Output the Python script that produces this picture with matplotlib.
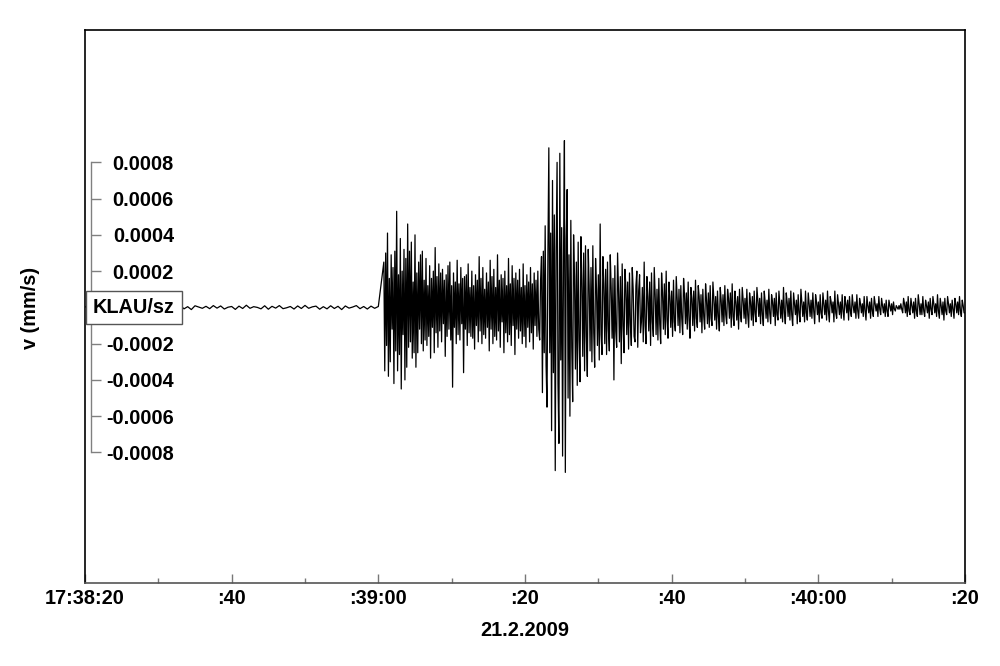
import matplotlib
matplotlib.use("Agg")
import matplotlib.pyplot as plt
import matplotlib.transforms as mtransforms
import numpy as np

plt.rcParams['font.family'] = ['Liberation Sans', 'DejaVu Sans']
plt.rcParams['font.weight'] = 'bold'

# trace samples, velocity in units of 1e-4 mm/s, seconds after 17:38:20
pre_start, pre_step = 0.0, 0.5
pre_event = [0.05, -0.08, 0.02, 0.06, -0.04, 0.09, -0.1, -0.03, 0.07, -0.05,
             0.08, 0.01, -0.07, 0.04, -0.09, 0.1, -0.03, 0.03, -0.08, 0.12,
             -0.05, 0.07, -0.1, -0.02, 0.05, -0.06, 0.11, -0.08, 0.04, -0.12,
             0.09, 0.02, -0.05, 0.06, -0.07, 0.1, -0.04, 0.08, -0.09, 0.01,
             0.05, -0.11, 0.07, -0.06, 0.12, -0.05, 0.04, 0.0, -0.08, 0.09,
             -0.1, 0.06, -0.04, 0.1, -0.07, -0.02, 0.05, -0.09, 0.08, -0.06,
             0.11, -0.05, 0.03, 0.07, -0.1, 0.04, -0.08, 0.09, -0.06, 0.06,
             -0.12, 0.08, -0.04, 0.02, 0.1, -0.07, 0.05, -0.09, 0.07, -0.05,
             0.05]

p_start, p_step = 40.75, 0.125
p_phase = [2.5, -3.5,
           3.0, -2.1, 4.1, -3.8, 1.6, -3.0, 2.9, -1.2,
           2.2, -4.2, 3.1, -2.4, 5.3, -3.5, 1.8, -2.6,
           3.8, -4.5, 2.0, -1.5, 3.2, -4.0, 2.7, -3.3,
           4.6, -2.2, 3.1, -1.9, 3.6, -2.8, 1.4, -2.5,
           4.0, -3.3, 1.9, -2.5, 2.5, -1.2, 2.9, -2.0,
           3.1, -2.4, 1.5, -1.8, 2.7, -2.1, 1.2, -1.6,
           2.3, -2.8, 1.6, -1.1, 2.0, -2.5, 3.3, -1.4,
           1.7, -2.2, 2.4, -1.3, 1.9, -1.9, 2.1, -0.9,
           1.5, -2.7, 1.8, -1.6, 2.3, -1.2, 2.5, -1.8,
           1.2, -4.4, 1.9, -1.1, 1.4, -2.0, 2.6, -1.5,
           1.3, -1.8, 2.2, -0.9, 1.6, -3.6, 1.7, -1.2,
           1.8, -2.1, 2.4, -1.4, 1.1, -1.6, 2.0, -1.7,
           1.2, -2.3, 1.8, -1.0, 1.5, -1.9, 2.8, -1.3,
           1.6, -2.0, 2.2, -1.5, 1.0, -1.7, 1.9, -1.1,
           1.4, -2.4, 2.6, -1.2, 1.7, -2.0, 2.1, -1.6,
           1.1, -1.8, 2.9, -1.3, 1.5, -2.2, 1.8, -0.8,
           1.6, -2.5, 2.0, -1.4, 1.2, -1.9, 2.7, -1.5,
           1.3, -2.1, 2.3, -1.0, 1.6, -2.6, 1.9, -1.2,
           1.5, -1.7, 2.1, -1.3, 1.1, -2.0, 2.4, -1.6,
           1.2, -2.2, 1.8, -1.1, 1.4, -1.9, 2.2, -1.4,
           1.3, -2.3, 1.9, -1.0, 1.5, -1.6, 2.0, -1.2,
           -1.8]

s_start, s_step = 62.125, 0.125
s_phase = [1.5, 2.8, -4.7, 3.1, -2.5, 4.5, -3.2,
           -5.5, 3.0, 8.8, -2.5, 4.1, -6.8, 7.0, -3.6,
           5.1, -9.0, 3.3, 8.0, -4.2, -7.5, 8.5, -2.9,
           4.4, -8.2, 2.6, 9.2, -9.1, 3.8, 6.5, -5.0,
           2.9, -6.0, 4.8, -2.2, -5.2, 4.0, 1.7, -3.4,
           2.5, -4.3, 3.6, -1.8, -4.1, 3.9, 1.5, -2.7,
           3.0, -3.5, 3.4, -1.6, -3.8, 3.2, 1.2, -2.4,
           2.2, -3.0, 3.4, -1.4, -3.3, 2.7, 1.0, -2.1,
           1.8, -2.9, 4.6, -1.5, -2.6, 2.8, 1.3, -2.0,
           2.1, -2.6, 2.5, -1.2, -2.4, 2.9, 1.1, -1.7,
           1.6, -4.0, 2.3, -1.3, -2.2, 3.0, 0.9, -1.9,
           1.7, -3.1, 2.4, -1.0, -2.5, 2.1, 1.2, -1.5,
           1.4, -2.3, 1.9, -0.9, -2.1, 2.2, 1.0, -1.6,
           -1.9]

coda_start, coda_step = 75.125, 0.125
coda = [1.2, 2.0, -2.2, 0.9, 1.8, -1.4, -0.8,
        1.1, -1.9, 2.5, -1.0, -2.0, 1.7, 0.6, -1.3,
        1.4, -2.1, 1.9, -0.8, -1.6, 2.2, 0.7, -1.5,
        1.0, -1.8, 1.6, -0.9, -2.0, 1.9, 0.8, -1.2,
        1.3, -1.5, 2.0, -0.7, -1.7, 1.4, 0.6, -1.1,
        0.9, -1.6, 1.5, -0.8, -1.3, 1.7, 0.5, -1.0,
        1.0, -1.4, 1.2, -0.6, -1.5, 1.6, 0.7, -0.9,
        0.8, -1.2, 1.4, -0.7, -1.7, 1.1, 0.5, -1.0,
        0.9, -1.3, 1.5, -0.6, -1.1, 1.2, 0.6, -0.8,
        0.7, -1.4, 1.0, -0.5, -1.2, 1.3, 0.4, -0.9,
        0.8, -1.1, 1.2, -0.6, -1.0, 1.4, 0.5, -0.7,
        0.6, -1.2, 0.9, -0.5, -1.3, 1.1, 0.4, -0.8,
        0.7, -1.0, 1.2, -0.4, -0.9, 1.0, 0.5, -0.6,
        0.8, -1.1, 1.3, -0.5, -1.0, 0.9, 0.3, -0.7,
        0.6, -1.2, 1.0, -0.4, -0.8, 1.1, 0.4, -0.6,
        0.5, -0.9, 1.0, -0.4, -1.1, 0.8, 0.3, -0.7,
        0.6, -1.0, 0.9, -0.3, -0.8, 1.1, 0.4, -0.5,
        0.5, -0.9, 0.8, -0.4, -1.0, 0.9, 0.3, -0.6,
        0.4, -0.8, 1.0, -0.3, -0.9, 0.7, 0.3, -0.5,
        0.5, -1.0, 0.8, -0.4, -0.7, 0.9, 0.2, -0.6,
        0.4, -0.8, 1.1, -0.3, -0.9, 0.8, 0.3, -0.5,
        0.5, -0.7, 0.9, -0.4, -1.0, 0.8, 0.2, -0.4,
        0.4, -0.9, 0.7, -0.3, -0.8, 1.0, 0.3, -0.5,
        0.3, -0.8, 0.9, -0.3, -0.7, 0.8, 0.2, -0.5,
        0.4, -0.6, 0.8, -0.2, -0.9, 0.7, 0.3, -0.4,
        0.3, -0.8, 0.7, -0.3, -0.6, 0.8, 0.2, -0.4,
        0.4, -0.7, 0.9, -0.2, -0.8, 0.6, 0.3, -0.3,
        0.3, -0.8, 0.9, -0.3, -0.6, 0.7, 0.2, -0.4,
        0.3, -0.6, 0.7, -0.2, -0.7, 0.6, 0.2, -0.3,
        0.4, -0.7, 0.6, -0.2, -0.5, 0.7, 0.1, -0.3,
        0.3, -0.6, 0.7, -0.2, -0.6, 0.5, 0.2, -0.3,
        0.2, -0.5, 0.6, -0.2, -0.7, 0.6, 0.1, -0.3,
        0.3, -0.6, 0.5, -0.2, -0.5, 0.6, 0.2, -0.2,
        0.2, -0.5, 0.6, -0.1, -0.4, 0.5, 0.1, -0.3,
        0.2, -0.5, 0.4, -0.2, -0.5, 0.4, 0.1, -0.2,
        0.2, -0.4, 0.3, -0.1, -0.2, 0.1, 0.0, -0.1,
        0.1, -0.1, 0.2, -0.1, -0.3, 0.5, 0.2, -0.3,
        0.3, -0.5, 0.6, -0.2, -0.4, 0.5, 0.1, -0.3,
        0.3, -0.6, 0.5, -0.2, -0.5, 0.7, 0.2, -0.4,
        0.2, -0.4, 0.6, -0.2, -0.5, 0.4, 0.1, -0.3,
        0.3, -0.6, 0.5, -0.1, -0.4, 0.6, 0.2, -0.3,
        0.2, -0.5, 0.7, -0.2, -0.6, 0.5, 0.1, -0.4,
        0.3, -0.7, 0.5, -0.2, -0.4, 0.6, 0.2, -0.3,
        0.2, -0.5, 0.4, -0.1, -0.6, 0.5, 0.2, -0.3,
        0.3, -0.4, 0.6, -0.2, -0.5, 0.4, 0.1, -0.3,
        -0.3]

x_ticks = [0, 20, 40, 60, 80, 100, 120]
x_labels = ['17:38:20', ':40', ':39:00', ':20', ':40', ':40:00', ':20']
y_ticks = [-0.0008, -0.0006, -0.0004, -0.0002, 0.0, 0.0002, 0.0004, 0.0006, 0.0008]
y_labels = ['-0.0008', '-0.0006', '-0.0004', '-0.0002', '', '0.0002', '0.0004', '0.0006', '0.0008']
station = 'KLAU/sz'
date_label = '21.2.2009'

segments = [(pre_start, pre_step, pre_event), (p_start, p_step, p_phase),
            (s_start, s_step, s_phase), (coda_start, coda_step, coda)]
t = np.concatenate([start + step * np.arange(len(vals)) for start, step, vals in segments])
v = np.concatenate([np.array(vals) for _, _, vals in segments]) * 1e-4

fs = 14.3
ylim = (-15.2e-4, 15.3e-4)
fig = plt.figure(figsize=(10, 6.66), dpi=100)
rect = [0.085, 0.1246, 0.88, 0.8304]
ax = fig.add_axes(rect)
ax.plot(t, v, color='black', lw=0.9)
ax.set_xlim(0, 120)
ax.set_ylim(*ylim)
ax.set_yticks([])
ax.set_xticks(x_ticks)
ax.set_xticklabels(x_labels, fontsize=fs, fontweight='bold')
ax.set_xticks(np.arange(10, 120, 20), minor=True)
ax.tick_params(axis='x', which='major', direction='in', length=6.7, width=1, color='#777777', pad=4)
ax.tick_params(axis='x', which='minor', direction='in', length=3.4, width=1, color='#777777')
for s in ['left', 'top', 'right']:
    ax.spines[s].set_color('black')
    ax.spines[s].set_linewidth(1.2)
ax.spines['bottom'].set_color('#555555')
ax.spines['bottom'].set_linewidth(1.2)
ax.set_xlabel(date_label, fontsize=fs, fontweight='bold', labelpad=10)

# y scale bracket drawn on an overlay axes
ay = fig.add_axes(rect)
ay.patch.set_visible(False)
ay.set_xlim(0, 120)
ay.set_ylim(*ylim)
ay.set_xticks([])
for s in ['top', 'right', 'bottom']:
    ay.spines[s].set_visible(False)
ay.spines['left'].set_position(('outward', -4))
ay.spines['left'].set_bounds(-0.0008, 0.0008)
ay.spines['left'].set_color('#808080')
ay.spines['left'].set_linewidth(1)
ay.set_yticks(y_ticks)
ay.set_yticklabels(y_labels, fontsize=fs, fontweight='bold')
ay.tick_params(axis='y', direction='in', length=7, width=1, color='#808080', pad=-60)
ay.text(0.009, 0.0, station, transform=mtransforms.blended_transform_factory(ay.transAxes, ay.transData),
        ha='left', va='center', fontsize=fs, fontweight='bold', zorder=5,
        bbox=dict(boxstyle='square,pad=0.35', fc='white', ec='#555555', lw=1))

fig.text(0.030, 1 - 308 / 666, 'v (mm/s)', rotation=90, ha='center', va='center',
         fontsize=fs, fontweight='bold')

fig.savefig('out.png', dpi=100)
